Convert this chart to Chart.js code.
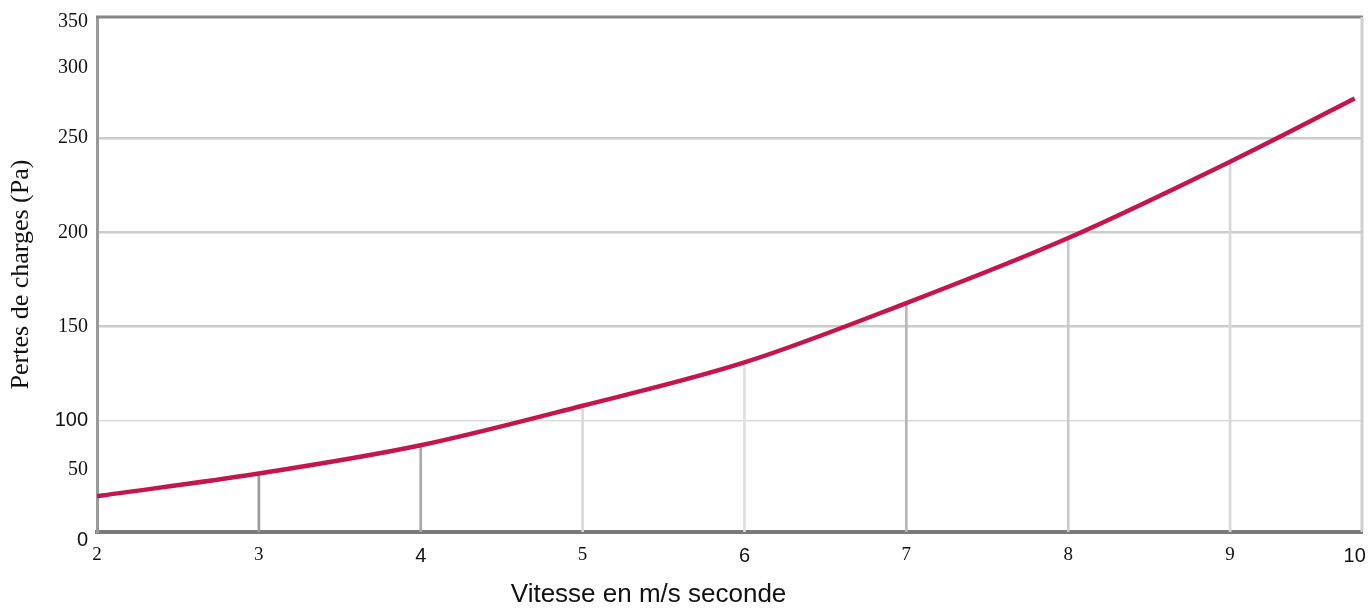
<!DOCTYPE html>
<html>
<head>
<meta charset="utf-8">
<script src="https://cdn.jsdelivr.net/npm/chart.js@4/dist/chart.umd.min.js"></script>
<style>
  html, body { margin: 0; padding: 0; background: #fff; }
  #wrap { width: 1372px; height: 608px; position: relative; }
</style>
</head>
<body>
<div id="wrap"><canvas id="c" width="1372" height="608"></canvas></div>
<script>
// ---- data ----
const speeds = [2, 3, 4, 5, 6, 7, 8, 9, 9.77];            // m/s
const losses = [60, 72, 87, 108, 131, 162.5, 197, 237.5, 271]; // Pa
const dropSpeeds = [3, 4, 5, 6, 7, 8, 9];
const dropLosses = [72, 87, 108, 131, 162.5, 197, 237.5];
const xTickValues = [2, 3, 4, 5, 6, 7, 8, 9, 9.77];
const xTickLabels = ['2', '3', '4', '5', '6', '7', '8', '9', '10'];
const yTickValues = [36.7, 74, 100, 150, 200, 250, 287.3, 311.6];
const yTickLabels = ['0', '50', '100', '150', '200', '250', '300', '350'];
const yGridValues = [100, 150, 200, 250];
const sansLabels = ['0', '100', '4', '6', '10'];
const dropColors = ['#9a9a9a', '#a8a8a8', '#dadada', '#e0e0e0', '#b8b8b8', '#cacaca', '#d8d8d8'];

const SERIF = "'Liberation Serif', 'DejaVu Serif', serif";
const SANS = "'Liberation Sans', Arial, sans-serif";

const framePlugin = {
  id: 'frame',
  afterDatasetsDraw(chart) {
    const {ctx, chartArea: a} = chart;
    ctx.save();
    ctx.lineCap = 'butt';
    ctx.strokeStyle = '#858585';
    ctx.lineWidth = 3;
    ctx.beginPath(); ctx.moveTo(a.left - 1, a.top); ctx.lineTo(a.right + 1, a.top); ctx.stroke();
    ctx.strokeStyle = '#cfcfcf';
    ctx.beginPath(); ctx.moveTo(a.right, a.top); ctx.lineTo(a.right, a.bottom); ctx.stroke();
    ctx.restore();
  },
  afterDraw(chart) {
    const {ctx, chartArea: a} = chart;
    ctx.save();
    ctx.fillStyle = '#111';
    ctx.font = '26px ' + SANS;
    ctx.textAlign = 'center';
    ctx.textBaseline = 'middle';
    ctx.fillText('Vitesse en m/s seconde', a.left + (a.right - a.left) * 0.436, 595);
    ctx.restore();
  }
};

new Chart(document.getElementById('c'), {
  type: 'line',
  data: {
    datasets: [
      {
        type: 'line',
        label: 'Pertes de charges',
        data: speeds.map((s, i) => ({x: s, y: losses[i]})),
        borderColor: '#c4164c',
        borderWidth: 4.5,
        pointRadius: 0,
        cubicInterpolationMode: 'monotone',
        fill: false,
        order: 0
      },
      {
        type: 'bar',
        label: 'drop',
        data: dropSpeeds.map((s, i) => ({x: s, y: dropLosses[i]})),
        backgroundColor: dropColors,
        barThickness: 2,
        order: 1
      }
    ]
  },
  options: {
    responsive: false,
    animation: false,
    layout: { padding: { top: 17, right: 10, left: 0, bottom: 0 } },
    plugins: { legend: { display: false }, tooltip: { enabled: false }, title: { display: false } },
    scales: {
      x: {
        type: 'linear',
        min: 2,
        max: 9.815,
        offset: false,
        afterBuildTicks: (scale) => { scale.ticks = xTickValues.map(v => ({value: v})); },
        afterFit: (scale) => { scale.height = 76; scale.paddingLeft = 0; scale.paddingRight = 0; },
        ticks: {
          autoSkip: false,
          maxRotation: 0,
          padding: 12,
          color: '#111',
          callback: (v, i) => xTickLabels[i],
          font: (ctx) => {
            const lab = xTickLabels[ctx.index];
            return sansLabels.includes(lab) ? {family: SANS, size: 20} : {family: SERIF, size: 19};
          }
        },
        grid: { display: false, offset: false, drawTicks: false },
        border: { display: true, color: '#7a7a7a', width: 4 }
      },
      y: {
        type: 'linear',
        min: 41,
        max: 314.3,
        afterBuildTicks: (scale) => { scale.ticks = yTickValues.map(v => ({value: v})); },
        afterFit: (scale) => { scale.width = 97; scale.paddingTop = 0; scale.paddingBottom = 0; },
        ticks: {
          autoSkip: false,
          padding: 9,
          color: '#111',
          callback: (v, i) => yTickLabels[i],
          font: (ctx) => {
            const lab = yTickLabels[ctx.index];
            return sansLabels.includes(lab) ? {family: SANS, size: 20} : {family: SERIF, size: 20};
          }
        },
        grid: {
          drawTicks: false,
          color: (ctx) => {
            const v = ctx.tick ? ctx.tick.value : null;
            if (!yGridValues.includes(v)) return 'rgba(0,0,0,0)';
            return v === 100 ? '#dcdcdc' : '#cccccc';
          },
          lineWidth: (ctx) => (ctx.tick && ctx.tick.value === 100 ? 1.5 : 2.5)
        },
        border: { display: true, color: '#9a9a9a', width: 3 },
        title: {
          display: true,
          text: 'Pertes de charges (Pa)',
          color: '#111',
          font: { family: SERIF, size: 26 },
          padding: { top: 6, bottom: 0 }
        }
      }
    }
  },
  plugins: [framePlugin]
});
</script>
</body>
</html>
